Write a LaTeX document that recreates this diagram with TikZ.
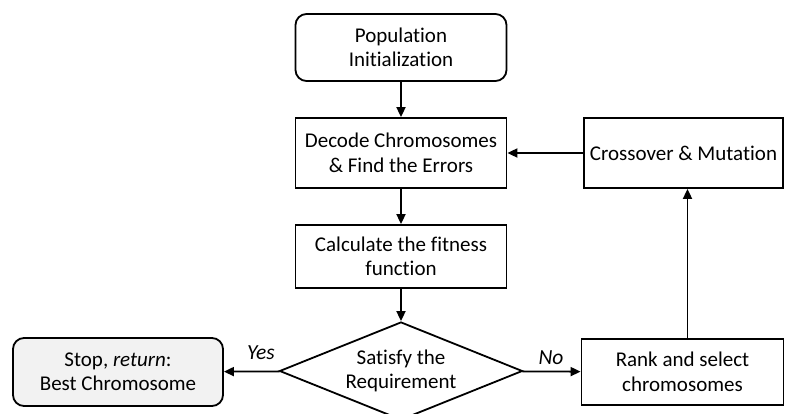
\documentclass[tikz,border=0pt]{standalone}
\usepackage{fontspec}
\setmainfont{Carlito}[RawFeature={-liga}]
\usetikzlibrary{shapes.geometric,arrows.meta}
\definecolor{stopfill}{HTML}{F2F2F2}
\begin{document}
\begin{tikzpicture}[x=1pt,y=-1pt,
  every node/.style={font=\fontsize{21}{24.5}\selectfont, align=center, inner sep=0pt},
  boxbase/.style={draw, line width=1.8pt, minimum width=211pt},
  procbox/.style={boxbase},
  roundbox/.style={boxbase, rounded corners=11pt},
  decbox/.style={draw, line width=1.8pt, diamond, aspect=2.48, minimum width=243pt, minimum height=98pt},
  arr/.style={line width=1.8pt, -{Triangle[length=10pt,width=9pt]}},
  lbl/.style={font=\fontsize{21.5}{24.5}\selectfont\itshape}]
\useasboundingbox (0,0) rectangle (785,414);
\node[roundbox, minimum height=67pt] (pop) at (401,47.5) {Population\\Initialization};
\node[procbox, minimum height=70pt] (dec) at (401,153) {Decode Chromosomes\\\& Find the Errors};
\node[procbox, minimum height=63pt] (calc) at (401,256.5) {Calculate the fitness\\function};
\node[decbox, minimum height=98pt] (sat) at (401,371) {Satisfy the\\Requirement};
\node[roundbox, fill=stopfill, minimum width=210pt, minimum height=68pt] (stop) at (118,372) {Stop, \textit{return}:\\Best Chromosome};
\node[procbox, minimum width=202pt, minimum height=66pt] (rank) at (682.5,372) {Rank and select\\chromosomes};
\node[procbox, minimum width=199pt, minimum height=70pt] (cross) at (683.5,153) {Crossover \& Mutation};
\node[lbl] (yes) at (261,353) {Yes};
\node[lbl] (no) at (551,358) {No};
\draw[arr] (pop) -- (dec);
\draw[arr] (dec) -- (calc);
\draw[arr] (calc) -- (sat);
\draw[arr] (sat) -- (stop);
\draw[arr] (sat) -- (rank);
\draw[arr] ([xshift=5pt]rank.north) -- ([xshift=4pt]cross.south);
\draw[arr] (cross) -- (dec);
\end{tikzpicture}
\end{document}
